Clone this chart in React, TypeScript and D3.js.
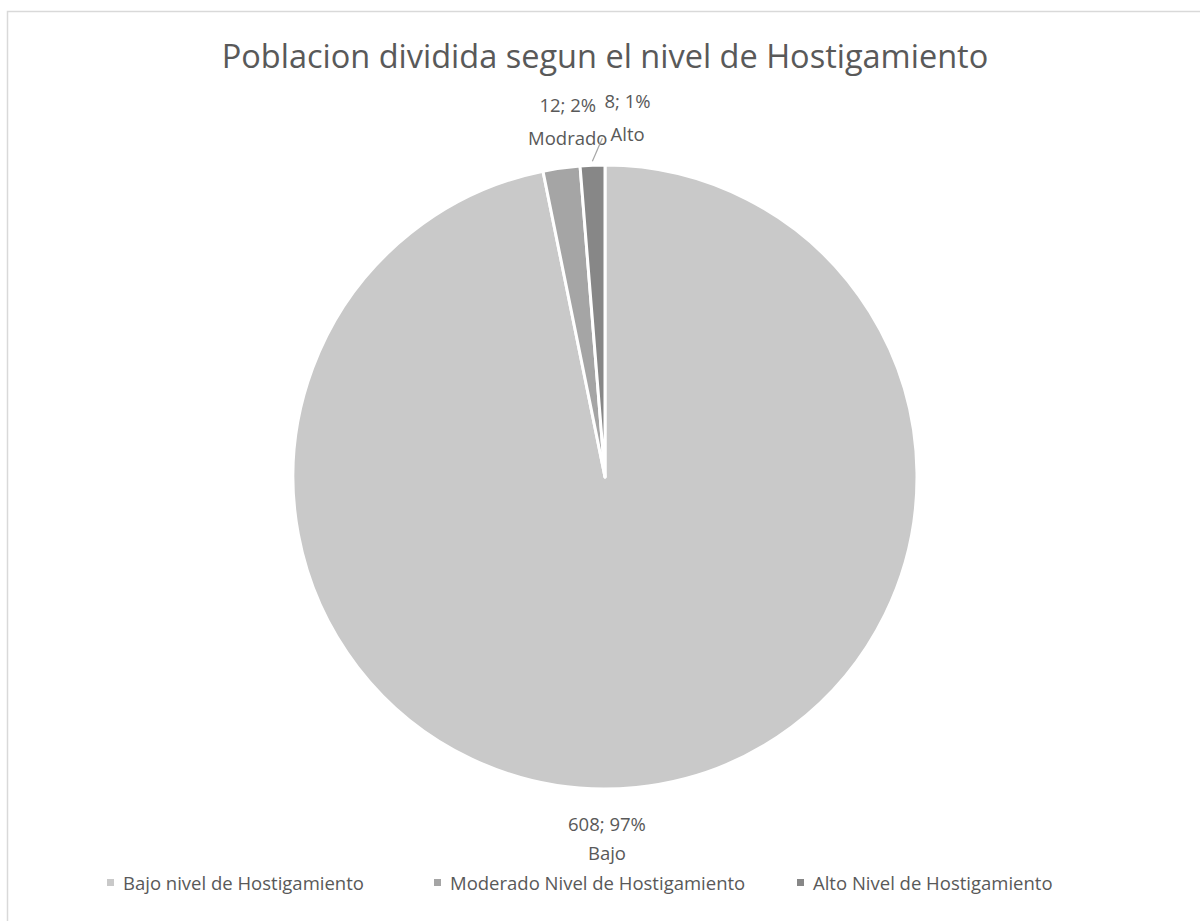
import React from "react";
import * as d3 from "d3";

const categories = ["Bajo nivel de Hostigamiento", "Moderado Nivel de Hostigamiento", "Alto Nivel de Hostigamiento"];
const shortLabels = ["Bajo", "Modrado", "Alto"];
const values = [608, 12, 8];
const percents = ["97%", "2%", "1%"];
const colors = ["#c9c9c9", "#a5a5a5", "#878787"];

const width = 1200;
const height = 921;
const cx = 605;
const cy = 477;
const radius = 312;
const font = "'Open Sans', 'Noto Sans', sans-serif";
const textColor = "#595959";

// Excel nudges the labels around; offsets from the ideal spot at labelRadius
const labelRadius = 360;
const labelShift = [
  [-34, -4, 25],
  [13, -9, 24],
  [37, -9, 24],
];

const App = () => {
  const data = categories.map((c, i) => ({ c, v: values[i], i }));
  const pie = d3
    .pie<any>()
    .value((d: any) => d.v)
    .sort(null);
  const arcs = pie(data);
  const arc = d3.arc<any>().innerRadius(0).outerRadius(radius);

  const legendX = [107, 434, 797];

  return (
    <svg
      width={width}
      height={height}
      style={{ position: "absolute", left: 0, top: 0, background: "#fff" }}
    >
      <rect x={7.5} y={11.5} width={1300} height={1000} fill="#fff" stroke="#d9d9d9" strokeWidth={1.5} />
      <text x={cx} y={68} textAnchor="middle" fontFamily={font} fontSize={32.5} fill={textColor}>
        Poblacion dividida segun el nivel de Hostigamiento
      </text>
      <g transform={`translate(${cx},${cy})`}>
        {arcs.map((a: any, i: number) => (
          <path key={i} d={arc(a) as string} fill={colors[i]} stroke="#fff" strokeWidth={3} strokeLinejoin="round" />
        ))}
        {arcs.map((a: any, i: number) => {
          const mid = (a.startAngle + a.endAngle) / 2;
          const [sx, b1, b2] = labelShift[i];
          const x = Math.sin(mid) * labelRadius + sx;
          const y = -Math.cos(mid) * labelRadius;
          return (
            <g key={"l" + i}>
              <text x={x} y={y + b1} textAnchor="middle" fontFamily={font} fontSize={18.5} fill={textColor}>
                {values[i]}; {percents[i]}
              </text>
              <text x={x} y={y + b2} textAnchor="middle" fontFamily={font} fontSize={18.5} fill={textColor}>
                {shortLabels[i]}
              </text>
            </g>
          );
        })}
        {(() => {
          const a: any = arcs[2];
          const mid = (a.startAngle + a.endAngle) / 2;
          const x2 = Math.sin(mid) * (radius + 4);
          const y2 = -Math.cos(mid) * (radius + 4);
          return <line x1={x2 + 10} y1={y2 - 23} x2={x2} y2={y2} stroke="#a6a6a6" strokeWidth={1.2} />;
        })()}
      </g>
      {categories.map((c, i) => (
        <g key={"lg" + i} transform={`translate(${legendX[i]},890)`}>
          <rect x={0} y={-11} width={7} height={7} fill={colors[i]} />
          <text x={16} y={0} fontFamily={font} fontSize={18.5} fill={textColor}>
            {c}
          </text>
        </g>
      ))}
    </svg>
  );
};

export default App;
